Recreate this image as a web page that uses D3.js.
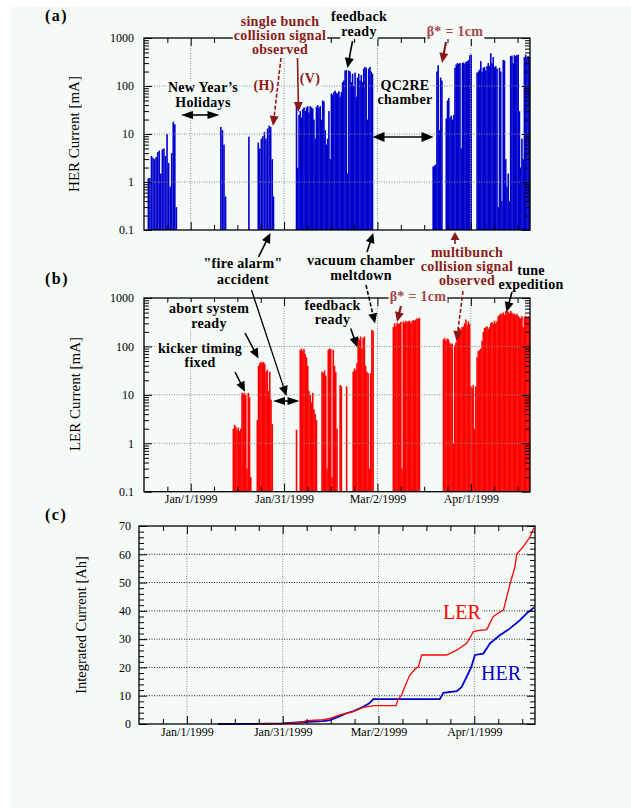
<!DOCTYPE html>
<html>
<head>
<meta charset="utf-8">
<script src="https://cdn.jsdelivr.net/npm/d3@7"></script>
<style>
  body { margin: 0; background: #fff; }
  svg { display: block; font-family: "Liberation Serif", "Times New Roman", serif; }
</style>
</head>
<body>
<svg id="chart" width="631" height="808"></svg>
<script>
'use strict';

// ---- Data -------------------------------------------------------------------
// Days are counted from Jan/1/1999.

const dateTicks  = [0, 30, 60, 90];
const dateLabels = ['Jan/1/1999', 'Jan/31/1999', 'Mar/2/1999', 'Apr/1/1999'];
const logTicks   = [0.1, 1, 10, 100, 1000];
const logLabels  = ['0.1', '1', '10', '100', '1000'];
const ahTicks    = [0, 10, 20, 30, 40, 50, 60, 70];

// HER stored current [mA] per fill: [day, mA]
const herBars = [
  [-13.6,1.2],[-13.1,1.2],[-12.6,3.5],[-12.1,3.2],[-11.6,3.0],[-11.1,3.3],[-10.6,4.2],[-10.1,4.5],
  [-9.6,1.5],[-9.1,4.8],[-8.6,5.0],[-8.1,3.5],[-7.6,10],[-7.1,2.5],[-6.6,0.8],[-6.1,4],[-5.6,18],
  [-5.1,16],[-4.6,0.3],
  [9.7,14],[10.2,12],[10.7,6],[11.2,0.5],
  [18.7,8.8],[21.7,6.6],[22.2,5],[22.7,8],[23.2,9],[23.7,11],[24.2,8],[24.7,13],[25.2,15],[25.7,14],
  [26.2,3],[26.6,0.5],
  [34.0,40],[34.4,2],[34.8,25],[35.2,30],[35.6,22],[36.0,33],[36.4,36],[36.8,30],[37.2,36],[37.6,38],
  [38.0,28],[38.4,38],[38.8,36],[39.2,34],[39.6,20],[40.0,8],[40.4,37],[40.8,40],[41.2,35],[41.6,38],
  [42.0,20],[42.4,50],[42.8,48],[43.2,12],[43.6,6],[44.0,8],[44.4,30],[44.8,3],[45.2,70],[45.6,65],
  [46.0,75],[46.4,80],[46.8,72],[47.2,70],[47.6,78],[48.0,60],[48.4,75],[48.8,120],[49.2,130],
  [49.6,210],[50.0,215],[50.4,1.5],[50.8,210],[51.2,200],[51.6,120],[52.0,180],[52.4,100],[52.8,190],
  [53.2,60],[53.6,150],[54.0,180],[54.4,130],[54.8,170],[55.2,120],[55.6,230],[56.0,250],[56.4,240],
  [56.8,20],[57.2,230],[57.6,250],[58.0,200],[58.4,180],
  [77.9,2.1],[78.3,2.2],[78.7,2.3],[79.1,200],[79.5,270],[79.9,12],[80.3,150],[80.7,130],
  [82.1,21],[82.5,50],[82.9,56],[83.3,22],[83.7,24],[84.1,20],[84.5,25],[84.9,240],[85.3,280],
  [85.7,300],[86.1,290],[86.5,300],[86.9,5],[87.3,300],[87.7,310],[88.1,290],[88.5,320],[88.9,330],
  [89.3,350],[89.7,440],[90.1,450],
  [92.0,190],[92.4,200],[92.8,220],[93.2,330],[93.6,200],[94.0,240],[94.4,250],[94.8,210],[95.2,260],
  [95.6,300],[96.0,260],[96.4,480],[96.8,300],[97.2,400],[97.6,250],[98.0,260],[98.4,230],[98.8,0.3],
  [99.2,240],[99.6,200],[100.0,0.4],[100.4,350],[100.8,340],[101.2,3],[101.6,0.8],[102.0,1.5],
  [102.4,0.4],[102.8,420],[103.2,430],[103.6,300],[104.0,440],[104.4,420],[104.8,440],[105.2,450],
  [105.6,30],[106.0,2],[106.4,8],[106.8,3],[107.2,400],[107.6,450],[108.0,380],[108.4,420],[108.8,400]
];

// LER stored current [mA] per fill: [day, mA]
const lerBars = [
  [13.7,2.0],[14.1,2.4],[14.5,2.2],[14.9,1.9],[15.3,2.1],[15.7,1.8],[16.1,2.0],[16.5,11],[16.9,10.5],
  [17.3,11],[17.7,10],[18.1,0.3],[18.5,11],[18.9,9],[19.3,0.2],
  [21.4,3],[21.8,40],[22.2,45],[22.6,48],[23.0,46],[23.4,48],[23.8,44],[24.2,30],[24.6,33],[25.0,12],
  [25.4,30],[25.8,8],[26.2,2.5],
  [34.0,1.9],[35.2,85],[35.6,90],[36.0,80],[36.4,88],[36.8,70],[37.2,60],[37.6,40],[38.0,12],[38.4,10],
  [38.8,7],[39.2,11],[39.6,5],[40.0,4],[40.4,3],
  [42.2,30],[42.6,28],[43.0,32],[43.4,25],[43.8,0.3],[44.2,85],[44.6,90],[45.0,88],[45.4,0.2],[45.8,85],
  [46.2,40],[46.6,30],[47.0,2],[48.0,16],[48.4,15],[50.1,15],
  [52.2,30],[52.6,35],[53.0,32],[53.4,45],[53.8,150],[54.2,140],[54.6,160],[55.0,90],[55.4,150],
  [55.8,160],[56.2,40],[56.6,30],[57.0,28],[57.4,0.3],[57.8,28],[58.2,220],[58.6,210],
  [65.1,250],[65.5,300],[65.9,260],[66.3,310],[66.7,290],[67.1,300],[67.5,320],[67.9,0.3],[68.3,330],
  [68.7,310],[69.1,340],[69.5,320],[69.9,330],[70.3,340],[70.7,300],[71.1,330],[71.5,350],[71.9,340],
  [72.3,360],[72.7,380],[73.1,370],[73.5,390],
  [81.2,140],[81.6,150],[82.0,130],[82.4,145],[82.8,140],[83.2,120],[83.6,110],[84.0,115],[84.4,1],
  [84.8,105],[85.2,120],[85.6,200],[86.0,230],[86.4,240],[86.8,220],[87.2,250],[87.6,260],[88.0,300],
  [88.4,360],[88.8,280],[89.2,330],[89.6,290],[90.0,15],[90.4,14],[90.8,16],[91.2,2],[91.6,15],
  [92.0,60],[92.4,80],[92.8,85],[93.2,90],[93.6,130],[94.0,200],[94.4,240],[94.8,250],[95.2,260],
  [95.6,230],[96.0,250],[96.4,300],[96.8,320],[97.2,290],[97.6,340],[98.0,300],[98.4,330],[98.8,420],
  [99.2,450],[99.6,480],[100.0,460],[100.4,500],[100.8,450],[101.2,530],[101.6,550],[102.0,520],
  [102.4,480],[102.8,540],[103.2,500],[103.6,460],[104.0,480],[104.4,440],[104.8,470],[105.2,430],
  [105.6,400],[106.0,380],[106.4,420],[106.8,250],[107.2,410],[107.6,430],[108.0,400],[108.4,420],
  [108.8,380]
];

// Integrated current [Ah]: [day, Ah]
const lerIntegrated = [
  [22.9,0],[30,0.2],[35.4,0.5],[37.5,1.2],[42.7,1.5],[44.8,2.0],[47.9,3.2],[52.1,4.4],[55.2,5.9],
  [58.4,6.5],[65.5,6.5],[66.0,8.5],[67.2,10.2],[68.5,14],[69.8,17.3],[71.5,19.5],[72.5,20.2],
  [73.5,24.4],[81.3,24.4],[84.5,26.1],[87.6,28.5],[89.7,32.6],[91.0,33],[93.9,33.4],[95.9,37.9],
  [98.0,39.6],[99.1,40.2],[101.2,49.6],[102.7,55.5],[103.3,60.2],[105.3,62.6],[107.4,66.1],[108.7,69.4]
];
const herIntegrated = [
  [9.8,0],[20,0.05],[30,0.2],[38,0.8],[42.7,1.0],[44.8,1.4],[47.9,2.8],[50.0,3.8],[52.1,4.5],
  [55.2,6.1],[57.0,7.2],[58.4,8.8],[79.2,8.8],[80.3,11],[84.5,11.6],[86.0,13],[87.6,16.7],[89.0,20],
  [90.2,24.4],[92.8,24.9],[94.9,28.5],[98.0,31.4],[101.2,33.8],[104.3,36.7],[106.4,39.1],[108.7,41.2]
];

// ---- Setup ------------------------------------------------------------------

const W = 631, H = 808;
const BG = '#f5faf7';
const BLUE = '#0000cc', RED = '#ff0000', DARKRED = '#8b1a1a';
const DAY_DOMAIN = [-15, 109];
const BAR_W = 1.6;

const svg = d3.select('#chart');
svg.append('rect').attr('width', W).attr('height', H).attr('fill', '#fff');
svg.append('rect').attr('x', 10).attr('y', 7).attr('width', W - 10).attr('height', H - 7).attr('fill', BG);

const minorDays = d3.range(-7.5, 109, 7.5).filter(d => !dateTicks.includes(d));

function styleAxis(g) {
  g.select('.domain').remove();
  g.selectAll('line').attr('stroke', '#000').attr('stroke-width', 1);
  g.selectAll('text').attr('font-family', '"Liberation Serif", serif').attr('font-size', 12).attr('fill', '#000');
}

function frame(g, x, y) {
  const [x0, x1] = x.range(), [y0, y1] = y.range();
  g.append('rect')
    .attr('x', x0).attr('y', y1).attr('width', x1 - x0).attr('height', y0 - y1)
    .attr('fill', 'none').attr('stroke', '#000').attr('stroke-width', 1.3);
}

function xAxes(g, x, y, labels) {
  const [y0, y1] = y.range();
  g.append('g').attr('transform', `translate(0,${y0})`)
    .call(d3.axisBottom(x).tickValues(minorDays).tickSize(-5).tickFormat('')).call(styleAxis);
  g.append('g').attr('transform', `translate(0,${y1})`)
    .call(d3.axisTop(x).tickValues(minorDays).tickSize(-5).tickFormat('')).call(styleAxis);
  g.append('g').attr('transform', `translate(0,${y0})`)
    .call(d3.axisBottom(x).tickValues(dateTicks).tickSize(-8).tickPadding(3)
      .tickFormat((d, i) => labels ? dateLabels[i] : '')).call(styleAxis);
  g.append('g').attr('transform', `translate(0,${y1})`)
    .call(d3.axisTop(x).tickValues(dateTicks).tickSize(-8).tickFormat('')).call(styleAxis);
}

// ---- Log panels (a) and (b) -------------------------------------------------

function logPanel(box, bars, color, withDates) {
  const x = d3.scaleLinear().domain(DAY_DOMAIN).range([box.left, box.right]);
  const y = d3.scaleLog().domain([0.1, 1000]).range([box.bottom, box.top]);
  const g = svg.append('g');

  g.append('g').selectAll('rect').data(bars).join('rect')
    .attr('x', d => x(d[0]) - BAR_W / 2)
    .attr('y', d => y(d[1]))
    .attr('width', BAR_W)
    .attr('height', d => y(0.1) - y(d[1]))
    .attr('fill', color);

  // Dotted grid drawn over the bars.
  const grid = g.append('g').attr('stroke', '#8a8a8a').attr('stroke-width', 1).attr('stroke-dasharray', '1,1.5');
  grid.selectAll('.gy').data(logTicks.slice(1, -1)).join('line')
    .attr('x1', box.left).attr('x2', box.right).attr('y1', d => y(d)).attr('y2', d => y(d));
  grid.selectAll('.gx').data(dateTicks).join('line')
    .attr('y1', box.top).attr('y2', box.bottom).attr('x1', d => x(d)).attr('x2', d => x(d));

  const minors = y.ticks().filter(v => !logTicks.some(t => Math.abs(t - v) < 1e-9));
  g.append('g').attr('transform', `translate(${box.left},0)`)
    .call(d3.axisLeft(y).tickValues(minors).tickSize(-5).tickFormat('')).call(styleAxis);
  g.append('g').attr('transform', `translate(${box.right},0)`)
    .call(d3.axisRight(y).tickValues(minors).tickSize(-5).tickFormat('')).call(styleAxis);
  g.append('g').attr('transform', `translate(${box.left},0)`)
    .call(d3.axisLeft(y).tickValues(logTicks).tickSize(-8).tickPadding(10)
      .tickFormat((d, i) => logLabels[i])).call(styleAxis);
  g.append('g').attr('transform', `translate(${box.right},0)`)
    .call(d3.axisRight(y).tickValues(logTicks).tickSize(-8).tickFormat('')).call(styleAxis);
  xAxes(g, x, y, withDates);
  frame(g, x, y);
  return { x, y };
}

logPanel({ left: 144, right: 530, top: 38, bottom: 230 }, herBars, BLUE, false);
logPanel({ left: 144, right: 530, top: 298, bottom: 491.7 }, lerBars, RED, true);

// ---- Annotation helpers -----------------------------------------------------

// Each line gets its own background box so it hides grid / frame only under the glyphs.
function note(lines, cx, y0, lh, color, opts = {}) {
  const g = svg.append('g');
  lines.forEach((s, i) => {
    const bg = g.append('rect').attr('fill', BG);
    const t = g.append('text')
      .attr('x', cx).attr('y', y0 + i * lh)
      .attr('text-anchor', opts.anchor || 'middle')
      .attr('fill', color)
      .attr('font-size', opts.size || 14)
      .attr('font-weight', opts.weight || 'bold')
      .attr('letter-spacing', opts.spacing != null ? opts.spacing : 0.3)
      .text(s);
    const b = t.node().getBBox();
    bg.attr('x', b.x - 1).attr('y', b.y + 1).attr('width', b.width + 2).attr('height', b.height - 1);
  });
}

function head(g, x1, y1, x2, y2, color, len, half) {
  const a = Math.atan2(y2 - y1, x2 - x1);
  const bx = x2 - len * Math.cos(a), by = y2 - len * Math.sin(a);
  const px = -Math.sin(a) * half, py = Math.cos(a) * half;
  g.append('path')
    .attr('d', `M${x2},${y2}L${bx + px},${by + py}L${bx - px},${by - py}Z`)
    .attr('fill', color);
}

function arrow(x1, y1, x2, y2, color = '#000', opts = {}) {
  const g = svg.append('g');
  const len = opts.len || 10, half = opts.half || 4.5;
  const a = Math.atan2(y2 - y1, x2 - x1);
  const sx = opts.both ? x1 + len * 0.8 * Math.cos(a) : x1;
  const sy = opts.both ? y1 + len * 0.8 * Math.sin(a) : y1;
  g.append('line')
    .attr('x1', sx).attr('y1', sy)
    .attr('x2', x2 - len * 0.8 * Math.cos(a)).attr('y2', y2 - len * 0.8 * Math.sin(a))
    .attr('stroke', color).attr('stroke-width', opts.width || 1.6)
    .attr('stroke-dasharray', opts.dashed ? '4,2' : null);
  head(g, x1, y1, x2, y2, color, len, half);
  if (opts.both) head(g, x2, y2, x1, y1, color, len, half);
}

// ---- Integrated panel (c) ---------------------------------------------------

(function integratedPanel() {
  const box = { left: 139, right: 535, top: 526, bottom: 724 };
  const x = d3.scaleLinear().domain(DAY_DOMAIN).range([box.left, box.right]);
  const y = d3.scaleLinear().domain([0, 70]).range([box.bottom, box.top]);
  const g = svg.append('g');

  g.append('g').attr('stroke', '#8a8a8a').attr('stroke-dasharray', '1,1.5')
    .selectAll('line').data(dateTicks).join('line')
    .attr('y1', box.top).attr('y2', box.bottom).attr('x1', d => x(d)).attr('x2', d => x(d));
  g.append('g').attr('stroke', '#222').attr('stroke-dasharray', '1,1.5')
    .selectAll('line').data(ahTicks.slice(1, -1)).join('line')
    .attr('x1', box.left).attr('x2', box.right).attr('y1', d => y(d)).attr('y2', d => y(d));

  const line = d3.line().x(d => x(d[0])).y(d => y(d[1]));
  g.append('path').datum(herIntegrated).attr('d', line)
    .attr('fill', 'none').attr('stroke', BLUE).attr('stroke-width', 1.8);
  g.append('path').datum(lerIntegrated).attr('d', line)
    .attr('fill', 'none').attr('stroke', RED).attr('stroke-width', 1.3);

  const minors = d3.range(2, 70, 2).filter(v => v % 10 !== 0);
  g.append('g').attr('transform', `translate(${box.left},0)`)
    .call(d3.axisLeft(y).tickValues(minors).tickSize(-5).tickFormat('')).call(styleAxis);
  g.append('g').attr('transform', `translate(${box.right},0)`)
    .call(d3.axisRight(y).tickValues(minors).tickSize(-5).tickFormat('')).call(styleAxis);
  g.append('g').attr('transform', `translate(${box.left},0)`)
    .call(d3.axisLeft(y).tickValues(ahTicks).tickSize(-8).tickPadding(8)).call(styleAxis);
  g.append('g').attr('transform', `translate(${box.right},0)`)
    .call(d3.axisRight(y).tickValues(ahTicks).tickSize(-8).tickFormat('')).call(styleAxis);
  xAxes(g, x, y, true);
  frame(g, x, y);

  note(['LER'], 443, 619, 0, RED, { anchor: 'start', size: 20, weight: 'normal', spacing: 0 });
  note(['HER'], 481, 680, 0, BLUE, { anchor: 'start', size: 20, weight: 'normal', spacing: 0 });
})();

// ---- Annotations ------------------------------------------------------------

// Panel labels and axis titles
['(a)', '(b)', '(c)'].forEach((s, i) => {
  svg.append('text').attr('x', 45).attr('y', [21, 284, 520][i])
    .attr('font-size', 16).attr('font-weight', 'bold').attr('letter-spacing', 1.5).text(s);
});

[['HER Current [mA]', 79, 134, 15], ['LER Current [mA]', 80, 394, 15],
 ['Integrated Current [Ah]', 86, 625, 14.5]].forEach(([s, x, y, fs]) => {
  svg.append('text').attr('transform', `translate(${x},${y}) rotate(-90)`)
    .attr('text-anchor', 'middle').attr('font-size', fs).text(s);
});

// Panel (a)
note(['single bunch', 'collision signal', 'observed'], 280, 26, 14, DARKRED);
note(['(H)'], 264, 90, 0, DARKRED);
note(['(V)'], 310, 83, 0, DARKRED);
arrow(281, 58, 273, 126, DARKRED, { dashed: true });
arrow(297.5, 58, 298.5, 112, DARKRED);
note(['feedback', 'ready'], 359, 21, 15, '#000');
arrow(352.5, 41, 347.5, 68, '#000');
note(['\u03b2* = 1cm'], 455, 36, 0, '#a54848');
arrow(446, 42, 442, 63, DARKRED, { width: 2.2 });
note(['New Year\u2019s', 'Holidays'], 203, 92, 14.5, '#000');
arrow(181, 115, 219.5, 115, '#000', { both: true, len: 12, half: 4 });
note(['QC2RE', 'chamber'], 405, 90, 13.5, '#000');
arrow(372.5, 137, 433.5, 137, '#000', { both: true, len: 12, half: 5 });

// Between (a) and (b)
note(['"fire alarm"', 'accident'], 243, 268, 15.5, '#000');
arrow(258.5, 257, 270.5, 233, '#000');
arrow(251.5, 290, 286.5, 396, '#000', { width: 1.3 });
arrow(273, 401, 299.5, 401, '#000', { both: true, len: 12, half: 4 });
note(['vacuum chamber', 'meltdown'], 361, 265, 14.5, '#000');
arrow(367, 252, 373.3, 233, '#000');
arrow(366, 285, 375, 323.5, '#000', { dashed: true });
note(['multibunch', 'collision signal', 'observed'], 467, 257, 14, DARKRED);
arrow(455, 244, 455, 232, DARKRED, { len: 8 });
arrow(463, 291, 456.5, 341, DARKRED, { dashed: true });
note(['tune', 'expedition'], 531, 275, 14, '#000');
arrow(512, 292, 506.5, 312, '#000');

// Panel (b)
note(['\u03b2* = 1cm'], 418, 301, 0, '#a54848');
arrow(401, 306, 397, 322, DARKRED, { width: 2.2 });
note(['abort system', 'ready'], 209, 313, 14.5, '#000');
arrow(245, 333, 258.5, 358.5, '#000');
note(['kicker timing', 'fixed'], 200, 353, 14, '#000');
arrow(235, 372, 245, 391.7, '#000');
note(['feedback', 'ready'], 332.5, 310, 14, '#000');
arrow(350.7, 328.5, 357.3, 347.3, '#000');
</script>
</body>
</html>
